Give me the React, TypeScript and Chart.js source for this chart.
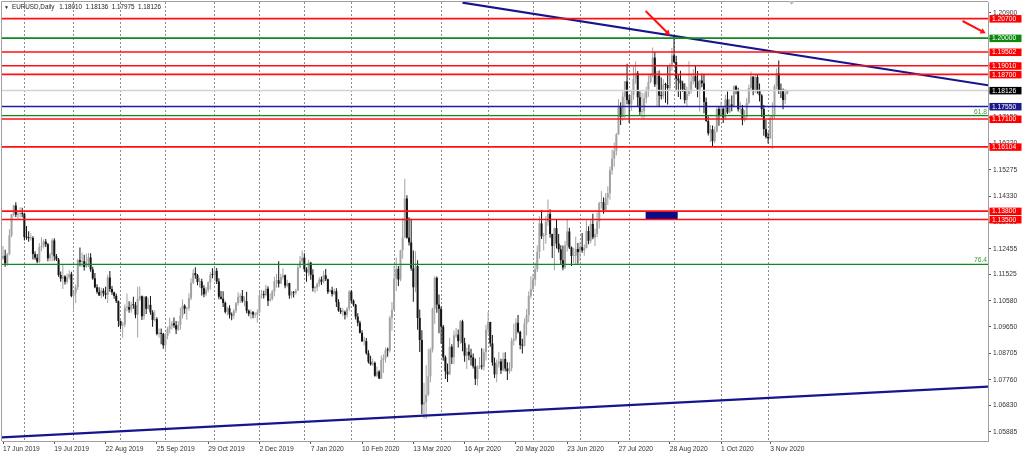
import React, { useEffect, useRef } from "react";
import { Chart, registerables } from "chart.js";

Chart.register(...registerables);

// ---------------- data (EURUSD, Daily) ----------------
const SYMBOL = "EURUSD";
const PERIOD = "Daily";

const opens = [
  1.1210,1.1220,1.1193,1.1225,1.1293,1.1369,1.1400,1.1367,1.1369,1.1372,
  1.1370,1.1287,1.1285,1.1283,1.1284,1.1226,1.1213,1.1199,1.1251,1.1255,
  1.1271,1.1261,1.1211,1.1223,1.1275,1.1218,1.1207,1.1151,1.1138,1.1146,
  1.1127,1.1143,1.1154,1.1076,1.1086,1.1107,1.1204,1.1198,1.1200,1.1180,
  1.1199,1.1214,1.1171,1.1139,1.1107,1.1091,1.1078,1.1095,1.1086,1.1080,
  1.1142,1.1101,1.1089,1.1076,1.1057,1.0986,1.0970,1.0973,1.1034,1.1036,
  1.1027,1.1045,1.1043,1.1009,1.1065,1.1075,1.1003,1.1073,1.1030,1.1044,
  1.1017,1.0990,1.0993,1.0940,1.0941,1.0940,1.0899,1.0933,1.0958,1.0969,
  1.0978,1.0971,1.0956,1.0972,1.1006,1.1041,1.1030,1.1033,1.1068,1.1123,
  1.1158,1.1150,1.1126,1.1128,1.1104,1.1082,1.1098,1.1125,1.1152,1.1151,
  1.1166,1.1128,1.1073,1.1066,1.1051,1.1019,1.1032,1.1009,1.1006,1.1022,
  1.1050,1.1073,1.1076,1.1057,1.1057,1.1023,1.1012,1.1018,1.1009,1.1009,
  1.1017,1.1078,1.1081,1.1079,1.1102,1.1059,1.1065,1.1093,1.1129,1.1132,
  1.1120,1.1144,1.1150,1.1113,1.1122,1.1078,1.1089,1.1087,1.1095,1.1178,
  1.1201,1.1213,1.1172,1.1160,1.1195,1.1152,1.1104,1.1106,1.1120,1.1135,
  1.1127,1.1150,1.1136,1.1091,1.1096,1.1083,1.1093,1.1054,1.1024,1.1019,
  1.1019,1.1008,1.1031,1.1092,1.1059,1.1045,1.1002,1.0980,1.0944,1.0914,
  1.0914,1.0871,1.0840,1.0831,1.0836,1.0790,1.0805,1.0780,1.0846,1.0853,
  1.0882,1.0881,1.0998,1.1026,1.1138,1.1173,1.1135,1.1240,1.1285,1.1425,
  1.1285,1.1268,1.1175,1.1107,1.1183,1.0997,1.0918,1.0687,1.0695,1.0722,
  1.0788,1.0884,1.1030,1.1141,1.1045,1.1030,1.0966,1.0856,1.0806,1.0795,
  1.0894,1.0856,1.0935,1.0937,1.0914,1.0985,1.0907,1.0862,1.0876,1.0863,
  1.0856,1.0824,1.0779,1.0820,1.0826,1.0823,1.0874,1.0955,1.0983,1.0906,
  1.0837,1.0795,1.0833,1.0841,1.0809,1.0850,1.0816,1.0806,1.0818,1.0916,
  1.0922,1.0980,1.0947,1.0900,1.0898,1.0977,1.1007,1.1077,1.1101,1.1135,
  1.1172,1.1234,1.1336,1.1290,1.1293,1.1342,1.1370,1.1298,1.1255,1.1319,
  1.1264,1.1243,1.1204,1.1178,1.1257,1.1307,1.1250,1.1219,1.1220,1.1244,
  1.1233,1.1251,1.1239,1.1247,1.1309,1.1274,1.1334,1.1286,1.1298,1.1343,
  1.1409,1.1412,1.1384,1.1428,1.1444,1.1526,1.1568,1.1596,1.1655,1.1753,
  1.1718,1.1790,1.1845,1.1778,1.1763,1.1796,1.1854,1.1875,1.1788,1.1736,
  1.1738,1.1785,1.1812,1.1842,1.1868,1.1930,1.1834,1.1865,1.1794,1.1792,
  1.1834,1.1832,1.1821,1.1904,1.1938,1.1914,1.1855,1.1848,1.1838,1.1816,
  1.1778,1.1800,1.1814,1.1845,1.1864,1.1845,1.1816,1.1848,1.1838,1.1771,
  1.1703,1.1659,1.1673,1.1631,1.1665,1.1746,1.1721,1.1747,1.1715,1.1780,
  1.1734,1.1762,1.1755,1.1827,1.1813,1.1745,1.1747,1.1706,1.1718,1.1768,
  1.1821,1.1862,1.1813,1.1860,1.1812,1.1795,1.1746,1.1674,1.1646,1.1641,
  1.1714,1.1723,1.1828,1.1874,1.1814,1.1812,1.1778,1.18010,
];

const highs = [
  1.1255,1.1242,1.1230,1.1315,1.1370,1.1403,1.1412,1.1384,1.1394,1.1392,
  1.1374,1.1327,1.1308,1.1301,1.1290,1.1236,1.1226,1.1265,1.1286,1.1278,
  1.1280,1.1266,1.1231,1.1282,1.1283,1.1226,1.1212,1.1164,1.1187,1.1150,
  1.1156,1.1167,1.1163,1.1090,1.1117,1.1209,1.1250,1.1231,1.1224,1.1228,
  1.1230,1.1229,1.1181,1.1158,1.1118,1.1107,1.1105,1.1104,1.1109,1.1152,
  1.1165,1.1112,1.1091,1.1084,1.1060,1.0988,1.0983,1.1045,1.1085,1.1057,
  1.1055,1.1073,1.1054,1.1109,1.1110,1.1078,1.1075,1.1076,1.1068,1.1076,
  1.1025,1.1024,1.1000,1.0959,1.0959,1.0944,1.0943,1.0965,1.0998,1.0986,
  1.0999,1.0986,1.0985,1.1034,1.1063,1.1046,1.1037,1.1086,1.1139,1.1172,
  1.1179,1.1155,1.1141,1.1138,1.1114,1.1108,1.1128,1.1162,1.1175,1.1176,
  1.1176,1.1139,1.1094,1.1093,1.1056,1.1036,1.1043,1.1017,1.1029,1.1054,
  1.1089,1.1086,1.1097,1.1074,1.1091,1.1027,1.1027,1.1022,1.1018,1.1027,
  1.1090,1.1097,1.1095,1.1116,1.1111,1.1085,1.1097,1.1145,1.1155,1.1200,
  1.1156,1.1175,1.1153,1.1134,1.1123,1.1094,1.1094,1.1102,1.1188,1.1219,
  1.1239,1.1229,1.1179,1.1206,1.1199,1.1172,1.1112,1.1124,1.1143,1.1146,
  1.1165,1.1173,1.1138,1.1100,1.1109,1.1103,1.1104,1.1064,1.1034,1.1032,
  1.1024,1.1036,1.1096,1.1096,1.1063,1.1047,1.1014,1.0987,1.0953,1.0930,
  1.0925,1.0881,1.0862,1.0851,1.0841,1.0823,1.0810,1.0863,1.0867,1.0891,
  1.0891,1.1005,1.1054,1.1185,1.1214,1.1183,1.1242,1.1355,1.1496,1.1437,
  1.1358,1.1353,1.1239,1.1236,1.1204,1.1027,1.0953,1.0765,1.0828,1.0887,
  1.0890,1.1034,1.1147,1.1146,1.1081,1.1038,1.0972,1.0863,1.0834,1.0926,
  1.0903,1.0952,1.0961,1.0956,1.0990,1.0991,1.0926,1.0891,1.0902,1.0887,
  1.0870,1.0852,1.0827,1.0857,1.0889,1.0887,1.0973,1.1019,1.0983,1.0936,
  1.0855,1.0848,1.0876,1.0851,1.0873,1.0874,1.0838,1.0838,1.0926,1.0976,
  1.0995,1.1008,1.0951,1.0923,1.0995,1.1029,1.1093,1.1147,1.1155,1.1195,
  1.1257,1.1362,1.1384,1.1302,1.1362,1.1422,1.1387,1.1299,1.1321,1.1349,
  1.1298,1.1258,1.1257,1.1273,1.1349,1.1320,1.1253,1.1249,1.1288,1.1266,
  1.1270,1.1302,1.1260,1.1346,1.1326,1.1347,1.1371,1.1317,1.1375,1.1414,
  1.1452,1.1429,1.1445,1.1469,1.1540,1.1601,1.1626,1.1660,1.1781,1.1770,
  1.1808,1.1846,1.1908,1.1797,1.1811,1.1898,1.1916,1.1882,1.1810,1.1805,
  1.1804,1.1826,1.1866,1.1873,1.1966,1.1951,1.1882,1.1884,1.1859,1.1853,
  1.1840,1.1901,1.1910,1.1965,1.2011,1.1937,1.1870,1.1883,1.1847,1.1838,
  1.1827,1.1917,1.1872,1.1888,1.1901,1.1882,1.1852,1.1873,1.1872,1.1787,
  1.1720,1.1689,1.1687,1.1683,1.1751,1.1754,1.1772,1.1752,1.1797,1.1809,
  1.1783,1.1794,1.1831,1.1831,1.1822,1.1772,1.1760,1.1742,1.1785,1.1834,
  1.1880,1.1863,1.1871,1.1870,1.1837,1.1799,1.1760,1.1707,1.1662,1.1720,
  1.1770,1.1834,1.1891,1.1920,1.1837,1.1819,1.1818,1.18136,
];

const lows = [
  1.1205,1.1181,1.1184,1.1222,1.1286,1.1361,1.1359,1.1348,1.1358,1.1358,
  1.1275,1.1277,1.1270,1.1275,1.1207,1.1206,1.1193,1.1194,1.1236,1.1246,
  1.1251,1.1200,1.1200,1.1200,1.1202,1.1201,1.1145,1.1127,1.1101,1.1117,
  1.1120,1.1136,1.1071,1.1027,1.1051,1.1097,1.1182,1.1180,1.1167,1.1177,
  1.1180,1.1163,1.1134,1.1104,1.1084,1.1076,1.1069,1.1074,1.1065,1.1051,
  1.1091,1.1080,1.1066,1.1051,1.0965,1.0957,1.0926,1.0964,1.1021,1.1016,
  1.1016,1.1030,1.0996,1.0927,1.1058,1.0990,1.0991,1.1011,1.1027,1.1009,
  1.0966,1.0984,1.0935,1.0926,1.0903,1.0887,1.0879,1.0921,1.0941,1.0956,
  1.0962,1.0940,1.0950,1.0955,1.0995,1.1012,1.0991,1.1023,1.1061,1.1118,
  1.1138,1.1114,1.1106,1.1078,1.1071,1.1075,1.1089,1.1098,1.1139,1.1131,
  1.1119,1.1064,1.1063,1.1036,1.1013,1.1006,1.0995,1.0989,1.0994,1.1015,
  1.1042,1.1051,1.1052,1.1039,1.1014,1.1003,1.0993,1.0996,1.0997,1.0981,
  1.1014,1.1067,1.1067,1.1074,1.1040,1.1056,1.1060,1.1075,1.1105,1.1106,
  1.1119,1.1135,1.1104,1.1107,1.1066,1.1068,1.1070,1.1080,1.1094,1.1175,
  1.1192,1.1163,1.1127,1.1147,1.1134,1.1092,1.1086,1.1093,1.1109,1.1115,
  1.1121,1.1130,1.1083,1.1088,1.1074,1.1079,1.1036,1.1019,1.1011,1.1003,
  1.0992,1.0999,1.1021,1.1050,1.1038,1.0992,1.0967,1.0941,1.0911,1.0898,
  1.0865,1.0834,1.0827,1.0825,1.0786,1.0785,1.0778,1.0778,1.0800,1.0837,
  1.0858,1.0873,1.0951,1.1024,1.1094,1.1112,1.1129,1.1209,1.1285,1.1281,
  1.1257,1.1166,1.1055,1.1089,1.0955,1.0875,1.0653,1.0637,1.0636,1.0717,
  1.0767,1.0873,1.0976,1.1016,1.0942,1.0905,1.0844,1.0778,1.0768,1.0793,
  1.0832,1.0831,1.0925,1.0891,1.0904,1.0878,1.0840,1.0814,1.0846,1.0827,
  1.0816,1.0757,1.0754,1.0814,1.0812,1.0809,1.0845,1.0937,1.0894,1.0826,
  1.0782,1.0767,1.0820,1.0796,1.0805,1.0806,1.0775,1.0797,1.0806,1.0898,
  1.0915,1.0941,1.0885,1.0870,1.0895,1.0934,1.0983,1.1068,1.1095,1.1113,
  1.1162,1.1209,1.1280,1.1239,1.1263,1.1328,1.1285,1.1212,1.1168,1.1246,
  1.1232,1.1188,1.1168,1.1173,1.1235,1.1244,1.1183,1.1194,1.1189,1.1191,
  1.1201,1.1231,1.1220,1.1247,1.1261,1.1264,1.1279,1.1255,1.1286,1.1318,
  1.1389,1.1371,1.1382,1.1402,1.1421,1.1510,1.1539,1.1580,1.1654,1.1689,
  1.1704,1.1712,1.1763,1.1696,1.1740,1.1779,1.1836,1.1755,1.1723,1.1712,
  1.1711,1.1767,1.1790,1.1838,1.1859,1.1825,1.1753,1.1753,1.1780,1.1783,
  1.1768,1.1762,1.1814,1.1883,1.1911,1.1810,1.1789,1.1781,1.1808,1.1766,
  1.1753,1.1792,1.1801,1.1834,1.1822,1.1788,1.1737,1.1824,1.1731,1.1700,
  1.1651,1.1627,1.1612,1.1623,1.1662,1.1686,1.1717,1.1696,1.1707,1.1728,
  1.1731,1.1738,1.1751,1.1799,1.1737,1.1730,1.1688,1.1700,1.1706,1.1762,
  1.1815,1.1795,1.1803,1.1801,1.1773,1.1717,1.1650,1.1640,1.1622,1.1638,
  1.1603,1.1710,1.1817,1.1800,1.1785,1.1745,1.1763,1.17975,
];

const closes = [
  1.1220,1.1193,1.1225,1.1293,1.1369,1.1400,1.1367,1.1369,1.1372,1.1370,
  1.1287,1.1285,1.1283,1.1284,1.1226,1.1213,1.1199,1.1251,1.1255,1.1271,
  1.1261,1.1211,1.1223,1.1275,1.1218,1.1207,1.1151,1.1138,1.1146,1.1127,
  1.1143,1.1154,1.1076,1.1086,1.1107,1.1204,1.1198,1.1200,1.1180,1.1199,
  1.1214,1.1171,1.1139,1.1107,1.1091,1.1078,1.1095,1.1086,1.1080,1.1142,
  1.1101,1.1089,1.1076,1.1057,1.0986,1.0970,1.0973,1.1034,1.1036,1.1027,
  1.1045,1.1043,1.1009,1.1065,1.1075,1.1003,1.1073,1.1030,1.1044,1.1017,
  1.0990,1.0993,1.0940,1.0941,1.0940,1.0899,1.0933,1.0958,1.0969,1.0978,
  1.0971,1.0956,1.0972,1.1006,1.1041,1.1030,1.1033,1.1068,1.1123,1.1158,
  1.1150,1.1126,1.1128,1.1104,1.1082,1.1098,1.1125,1.1152,1.1151,1.1166,
  1.1128,1.1073,1.1066,1.1051,1.1019,1.1032,1.1009,1.1006,1.1022,1.1050,
  1.1073,1.1076,1.1057,1.1057,1.1023,1.1012,1.1018,1.1009,1.1009,1.1017,
  1.1078,1.1081,1.1079,1.1102,1.1059,1.1065,1.1093,1.1129,1.1132,1.1120,
  1.1144,1.1150,1.1113,1.1122,1.1078,1.1089,1.1087,1.1095,1.1178,1.1201,
  1.1213,1.1172,1.1160,1.1195,1.1152,1.1104,1.1106,1.1120,1.1135,1.1127,
  1.1150,1.1136,1.1091,1.1096,1.1083,1.1093,1.1054,1.1024,1.1019,1.1019,
  1.1008,1.1031,1.1092,1.1059,1.1045,1.1002,1.0980,1.0944,1.0914,1.0914,
  1.0871,1.0840,1.0831,1.0836,1.0790,1.0805,1.0780,1.0846,1.0853,1.0882,
  1.0881,1.0998,1.1026,1.1138,1.1173,1.1135,1.1240,1.1285,1.1425,1.1285,
  1.1268,1.1175,1.1107,1.1183,1.0997,1.0918,1.0687,1.0695,1.0722,1.0788,
  1.0884,1.1030,1.1141,1.1045,1.1030,1.0966,1.0856,1.0806,1.0795,1.0894,
  1.0856,1.0935,1.0937,1.0914,1.0985,1.0907,1.0862,1.0876,1.0863,1.0856,
  1.0824,1.0779,1.0820,1.0826,1.0823,1.0874,1.0955,1.0983,1.0906,1.0837,
  1.0795,1.0833,1.0841,1.0809,1.0850,1.0816,1.0806,1.0818,1.0916,1.0922,
  1.0980,1.0947,1.0900,1.0898,1.0977,1.1007,1.1077,1.1101,1.1135,1.1172,
  1.1234,1.1336,1.1290,1.1293,1.1342,1.1370,1.1298,1.1255,1.1319,1.1264,
  1.1243,1.1204,1.1178,1.1257,1.1307,1.1250,1.1219,1.1220,1.1244,1.1233,
  1.1251,1.1239,1.1247,1.1309,1.1274,1.1334,1.1286,1.1298,1.1343,1.1409,
  1.1412,1.1384,1.1428,1.1444,1.1526,1.1568,1.1596,1.1655,1.1753,1.1718,
  1.1790,1.1845,1.1778,1.1763,1.1796,1.1854,1.1875,1.1788,1.1736,1.1738,
  1.1785,1.1812,1.1842,1.1868,1.1930,1.1834,1.1865,1.1794,1.1792,1.1834,
  1.1832,1.1821,1.1904,1.1938,1.1914,1.1855,1.1848,1.1838,1.1816,1.1778,
  1.1800,1.1814,1.1845,1.1864,1.1845,1.1816,1.1848,1.1838,1.1771,1.1703,
  1.1659,1.1673,1.1631,1.1665,1.1746,1.1721,1.1747,1.1715,1.1780,1.1734,
  1.1762,1.1755,1.1827,1.1813,1.1745,1.1747,1.1706,1.1718,1.1768,1.1821,
  1.1862,1.1813,1.1860,1.1812,1.1795,1.1746,1.1674,1.1646,1.1641,1.1714,
  1.1723,1.1828,1.1874,1.1814,1.1812,1.1778,1.1801,1.18126,
];

// time axis: bar index of each date label, and first bar of each month (grid)
const xLabelIndex = [0, 24, 48, 72, 96, 120, 144, 168, 192, 216, 240, 264, 288, 312, 336, 359];
const xLabelText = [
  "17 Jun 2019", "19 Jul 2019", "22 Aug 2019", "25 Sep 2019", "29 Oct 2019", "2 Dec 2019",
  "7 Jan 2020", "10 Feb 2020", "13 Mar 2020", "16 Apr 2020", "20 May 2020", "23 Jun 2020",
  "27 Jul 2020", "28 Aug 2020", "1 Oct 2020", "3 Nov 2020",
];
const monthStartIndex = [10, 33, 55, 76, 99, 120, 141, 163, 183, 205, 227, 248, 270, 293, 314, 336, 358];

// price axis ticks
const yTickValues = [
  1.05885, 1.0683, 1.0776, 1.08705, 1.0965, 1.1058, 1.11525, 1.12455, 1.134,
  1.1433, 1.15275, 1.1622, 1.1715, 1.18095, 1.19025, 1.1997, 1.209,
];

// horizontal levels
const redLevels = [1.207, 1.19502, 1.1901, 1.187, 1.171, 1.16104, 1.138, 1.135];
const greenLevel = 1.2;
const blueLevel = 1.1755;
const fibLevels = [1.1722, 1.11895];
const fibText = ["61.8", "76.4"];

// trend lines (bar index, price)
const downTrendX = [215, 460.9];
const downTrendY = [1.2127, 1.1831];
const upTrendX = [-0.5, 460.9];
const upTrendY = [1.05695, 1.07512];

// arrows (tail -> head)
const arrow1X = [300.7, 311.0];
const arrow1Y = [1.20972, 1.20184];
const arrow2X = [449.0, 458.4];
const arrow2Y = [1.20613, 1.2023];

// rectangle
const rectX = [300.7, 315.7];
const rectY = [1.135, 1.138];

const SHIFT_INDEX = 369;

// ---------------- styles ----------------
const X_MIN = -0.468;
const X_MAX = 460.9;
const Y_MIN = 1.05562;
const Y_MAX = 1.21294;

const FONT = "'Liberation Sans', Arial, sans-serif";
const FS = 6.7;
const C_RED = "#ff1010";
const C_GREEN = "#12891a";
const C_BLUE = "#1c1ca6";
const C_NAVY = "#15158e";
const C_BULL = "#a2a2a2";
const C_BEAR = "#141414";
const C_FRAME = "#a0a0a0";

const hLine = (v: number, color: string, width: number) => ({
  type: "line" as const,
  data: [{ x: X_MIN - 2, y: v }, { x: X_MAX + 2, y: v }],
  borderColor: color,
  borderWidth: width,
  pointRadius: 0,
  fill: false,
  xAxisID: "x",
  yAxisID: "y",
  order: 1,
});

const segLine = (xs: number[], ys: number[], color: string, width: number) => ({
  type: "line" as const,
  data: xs.map((x, i) => ({ x, y: ys[i] })),
  borderColor: color,
  borderWidth: width,
  pointRadius: 0,
  fill: false,
  xAxisID: "x",
  yAxisID: "y",
  order: 1,
});

const arrowLine = (xs: number[], ys: number[], rot: number) => ({
  type: "line" as const,
  data: xs.map((x, i) => ({ x, y: ys[i] })),
  borderColor: C_RED,
  borderWidth: 2,
  pointRadius: [0, 3.5],
  pointStyle: "triangle",
  pointRotation: [0, rot],
  pointBackgroundColor: C_RED,
  pointBorderColor: C_RED,
  pointBorderWidth: 0,
  fill: false,
  xAxisID: "x",
  yAxisID: "y",
  order: 0,
});

const overlayPlugin = {
  id: "mtOverlay",
  beforeDatasetsDraw(chart: any) {
    const { ctx, scales } = chart;
    const xs = scales.x;
    const ys = scales.y;
    const x1 = xs.getPixelForValue(rectX[0]);
    const x2 = xs.getPixelForValue(rectX[1]);
    const y1 = ys.getPixelForValue(rectY[1]);
    const y2 = ys.getPixelForValue(rectY[0]);
    ctx.save();
    ctx.fillStyle = "#0b0b86";
    ctx.fillRect(x1, y1, x2 - x1, y2 - y1);
    ctx.restore();
  },
  afterDraw(chart: any) {
    const { ctx, chartArea: a, scales } = chart;
    const xs = scales.x;
    const ys = scales.y;
    ctx.save();
    // frame (left + top)
    ctx.strokeStyle = C_FRAME;
    ctx.lineWidth = 1;
    ctx.beginPath();
    ctx.moveTo(1.5, a.bottom);
    ctx.lineTo(1.5, 1.5);
    ctx.lineTo(a.right, 1.5);
    ctx.stroke();
    // chart shift marker
    const sx = xs.getPixelForValue(SHIFT_INDEX);
    ctx.fillStyle = "#bdbdbd";
    ctx.beginPath();
    ctx.moveTo(sx - 3, 1);
    ctx.lineTo(sx + 3, 1);
    ctx.lineTo(sx, 5);
    ctx.closePath();
    ctx.fill();
    // header: symbol, period and OHLC of the last bar
    ctx.fillStyle = "#222";
    ctx.textBaseline = "middle";
    ctx.textAlign = "left";
    ctx.font = `5px ${FONT}`;
    ctx.fillText("\u25BC", 4, 7.5);
    ctx.font = `6.3px ${FONT}`;
    const last = closes.length - 1;
    const tokens = [
      `${SYMBOL},${PERIOD}`,
      ...[opens[last], highs[last], lows[last], closes[last]].map((v) => v.toFixed(5)),
    ];
    let tx = 12;
    tokens.forEach((t, k) => {
      ctx.fillText(t, tx, 7.5);
      tx += ctx.measureText(t).width + (k === 0 ? 5 : 3.5);
    });
    // fib labels
    ctx.font = `${FS}px ${FONT}`;
    ctx.fillStyle = "#3a9a3a";
    ctx.textAlign = "right";
    ctx.textBaseline = "bottom";
    fibLevels.forEach((v, k) => {
      ctx.fillText(fibText[k], a.right - 1, ys.getPixelForValue(v) - 0.5);
    });
    // price boxes on the axis
    const boxes: { v: number; c: string }[] = [
      ...redLevels.map((v) => ({ v, c: "#ff0000" })),
      { v: greenLevel, c: "#0d8a0d" },
      { v: blueLevel, c: "#1a1a8c" },
      { v: closes[last], c: "#000000" },
    ];
    ctx.textAlign = "left";
    ctx.textBaseline = "middle";
    boxes.forEach(({ v, c }) => {
      const y = ys.getPixelForValue(v);
      ctx.fillStyle = c;
      ctx.fillRect(a.right + 1.5, y - 3.5, 32, 7.5);
      ctx.fillStyle = "#ffffff";
      ctx.fillText(v.toFixed(5), a.right + 4, y + 0.5);
    });
    ctx.restore();
  },
};

export default function App() {
  const ref = useRef<HTMLCanvasElement>(null);

  useEffect(() => {
    document.body.style.margin = "0";
    const canvas = ref.current;
    if (!canvas) return;

    const colors = closes.map((c, i) => (c >= opens[i] ? C_BULL : C_BEAR));

    const wicks = {
      type: "bar" as const,
      data: highs.map((h, i) => ({ x: i, y: [lows[i], h] })),
      backgroundColor: colors,
      borderWidth: 0,
      barThickness: 1,
      grouped: false,
      inflateAmount: 0,
      xAxisID: "x",
      yAxisID: "y",
      order: 10,
    };
    const bodies = {
      type: "bar" as const,
      data: opens.map((o, i) => ({ x: i, y: [o, closes[i]] })),
      backgroundColor: colors,
      borderWidth: 0,
      barThickness: 2,
      minBarLength: 1,
      grouped: false,
      inflateAmount: 0,
      xAxisID: "x",
      yAxisID: "y",
      order: 9,
    };

    const last = closes.length - 1;
    const datasets: any[] = [
      wicks,
      bodies,
      hLine(closes[last], "#d2d2d2", 1.5),
      ...redLevels.map((v) => hLine(v, C_RED, 1.6)),
      hLine(greenLevel, C_GREEN, 1.6),
      ...fibLevels.map((v) => hLine(v, C_GREEN, 1.3)),
      hLine(blueLevel, C_BLUE, 1.6),
      segLine(downTrendX, downTrendY, C_NAVY, 2.2),
      segLine(upTrendX, upTrendY, C_NAVY, 2.2),
      arrowLine(arrow1X, arrow1Y, 135),
      arrowLine(arrow2X, arrow2Y, 118),
    ];

    const tickFont = { family: FONT, size: FS };

    const chart = new Chart(canvas, {
      type: "bar",
      data: { datasets },
      plugins: [overlayPlugin],
      options: {
        animation: false,
        responsive: false,
        devicePixelRatio: 1,
        events: [],
        layout: { autoPadding: false, padding: { left: 2, top: 2, right: 0, bottom: 0 } },
        plugins: { legend: { display: false }, tooltip: { enabled: false }, title: { display: false } },
        scales: {
          x: {
            type: "linear",
            position: "bottom",
            min: X_MIN,
            max: X_MAX,
            offset: false,
            grid: { display: true, offset: false, drawOnChartArea: true, drawTicks: false, color: "#8c8c8c", lineWidth: 1 },
            border: { display: false, dash: [2, 2] },
            ticks: { display: false },
            afterBuildTicks: (s: any) => {
              s.ticks = monthStartIndex.map((v) => ({ value: v }));
            },
            afterFit: (s: any) => {
              s.height = 0;
              s.paddingLeft = 0;
              s.paddingRight = 0;
            },
          },
          xl: {
            type: "linear",
            position: "bottom",
            min: X_MIN,
            max: X_MAX,
            offset: false,
            grid: { display: true, offset: false, drawOnChartArea: false, drawTicks: true, tickLength: 3, tickColor: "#555", tickWidth: 1 },
            border: { display: true, color: C_FRAME, width: 1 },
            ticks: {
              autoSkip: false,
              maxRotation: 0,
              minRotation: 0,
              align: "start",
              padding: 1,
              color: "#333",
              font: tickFont,
              callback: (v: any) => {
                const k = xLabelIndex.indexOf(Number(v));
                return k >= 0 ? xLabelText[k] : "";
              },
            },
            afterBuildTicks: (s: any) => {
              s.ticks = xLabelIndex.map((v) => ({ value: v }));
            },
            afterFit: (s: any) => {
              s.height = 13;
              s.paddingLeft = 0;
              s.paddingRight = 0;
            },
          },
          y: {
            type: "linear",
            position: "right",
            min: Y_MIN,
            max: Y_MAX,
            grid: { display: true, drawOnChartArea: false, drawTicks: true, tickLength: 3, tickColor: "#555" },
            border: { display: true, color: C_FRAME, width: 1 },
            ticks: {
              autoSkip: false,
              padding: 2,
              color: "#333",
              font: tickFont,
              callback: (v: any) => Number(v).toFixed(5),
            },
            afterBuildTicks: (s: any) => {
              s.ticks = yTickValues.map((v) => ({ value: v }));
            },
            afterFit: (s: any) => {
              s.width = 36;
              s.paddingTop = 0;
              s.paddingBottom = 0;
            },
          },
        },
      } as any,
    });

    return () => chart.destroy();
  }, []);

  return (
    <div style={{ position: "fixed", left: 0, top: 0, width: 1024, height: 454, background: "#fff" }}>
      <canvas ref={ref} width={1024} height={454} style={{ display: "block" }} />
    </div>
  );
}
